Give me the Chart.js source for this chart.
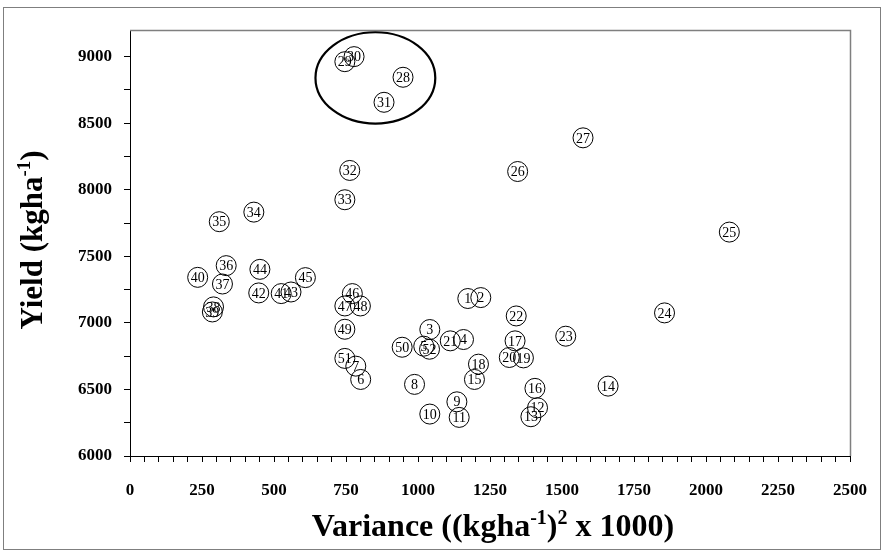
<!DOCTYPE html>
<html>
<head>
<meta charset="utf-8">
<script src="https://cdn.jsdelivr.net/npm/chart.js@4.4.1/dist/chart.umd.min.js"></script>
<style>
  html, body { margin: 0; padding: 0; background: #fff; }
  #wrap { width: 885px; height: 554px; position: relative; }
</style>
</head>
<body>
<div id="wrap"><canvas id="chart"></canvas></div>
<script>
// genotype numbers, variance (x1000) and mean yield
const pointIds = [1, 2, 3, 4, 5, 6, 7, 8, 9, 10, 11, 12, 13, 14, 15, 16, 17, 18, 19, 20,
  21, 22, 23, 24, 25, 26, 27, 28, 29, 30, 31, 32, 33, 34, 35, 36, 37, 38, 39, 40,
  41, 42, 43, 44, 45, 46, 47, 48, 49, 50, 51, 52];
const variance = [1173, 1218, 1041, 1158, 1020, 801, 784, 988, 1135, 1041,
  1143, 1415, 1392, 1660, 1196, 1406, 1337, 1210, 1366, 1317,
  1112, 1341, 1513, 1856, 2081, 1346, 1573, 948, 746, 778,
  882, 763, 746, 430, 310, 334, 321, 290, 286, 235,
  525, 447, 559, 451, 609, 772, 746, 800, 746, 945,
  746, 1040];
const yieldValues = [7183, 7190, 6950, 6875, 6825, 6575, 6675, 6538, 6407, 6315,
  6290, 6362, 6295, 6525, 6575, 6508, 6865, 6690, 6737, 6740,
  6865, 7052, 6900, 7075, 7682, 8137, 8390, 8845, 8962, 9000,
  8657, 8145, 7925, 7832, 7760, 7430, 7292, 7120, 7082, 7342,
  7220, 7225, 7232, 7402, 7340, 7220, 7127, 7127, 6952, 6817,
  6733, 6802];
const xTickLabels = [0, 250, 500, 750, 1000, 1250, 1500, 1750, 2000, 2250, 2500];
const yTickLabels = [6000, 6500, 7000, 7500, 8000, 8500, 9000];

const serif = '"Liberation Serif", "Times New Roman", serif';

// ellipse drawn round the high-yield group (28-31), in data units
const ring = { x: 852, y: 8840, rx: 208, ry: 343 };

function range(from, to, step) {
  const out = [];
  for (let v = from; v <= to; v += step) out.push({ value: v });
  return out;
}

function drawRich(ctx, parts, size) {
  // parts: [text, isSuperscript]
  let total = 0;
  parts.forEach(p => {
    ctx.font = 'bold ' + (p[1] ? Math.round(size * 0.62) : size) + 'px ' + serif;
    total += ctx.measureText(p[0]).width;
  });
  let x = -total / 2;
  parts.forEach(p => {
    ctx.font = 'bold ' + (p[1] ? Math.round(size * 0.62) : size) + 'px ' + serif;
    ctx.fillText(p[0], x, p[1] ? -size * 0.38 : 0);
    x += ctx.measureText(p[0]).width;
  });
}

const decorPlugin = {
  id: 'decor',
  beforeDraw(chart) {
    const ctx = chart.ctx;
    ctx.save();
    ctx.fillStyle = '#fff';
    ctx.fillRect(0, 0, chart.width, chart.height);
    ctx.strokeStyle = '#7f7f7f';
    ctx.lineWidth = 1;
    ctx.strokeRect(3.5, 7.5, 877, 542);
    ctx.restore();
  },
  afterDraw(chart) {
    const ctx = chart.ctx;
    const a = chart.chartArea;
    const xs = chart.scales.x, ys = chart.scales.y;
    ctx.save();
    // plot area frame top and right
    ctx.strokeStyle = '#7f7f7f';
    ctx.lineWidth = 1.5;
    ctx.beginPath();
    ctx.moveTo(a.left, a.top + 0.5);
    ctx.lineTo(a.right + 0.5, a.top + 0.5);
    ctx.lineTo(a.right + 0.5, a.bottom);
    ctx.stroke();

    // ellipse
    const cx = xs.getPixelForValue(ring.x), cy = ys.getPixelForValue(ring.y);
    const rx = Math.abs(xs.getPixelForValue(ring.x + ring.rx) - cx);
    const ry = Math.abs(ys.getPixelForValue(ring.y + ring.ry) - cy);
    ctx.strokeStyle = '#000';
    ctx.lineWidth = 2.2;
    ctx.beginPath();
    ctx.ellipse(cx, cy, rx, ry, 0, 0, Math.PI * 2);
    ctx.stroke();

    // point numbers
    const meta = chart.getDatasetMeta(0);
    ctx.fillStyle = '#000';
    ctx.font = '14px ' + serif;
    ctx.textAlign = 'center';
    ctx.textBaseline = 'middle';
    meta.data.forEach((pt, i) => {
      ctx.fillText(String(pointIds[i]), pt.x, pt.y + 1);
    });

    // axis titles
    ctx.textAlign = 'left';
    ctx.textBaseline = 'alphabetic';
    ctx.save();
    ctx.translate(42, 240);
    ctx.rotate(-Math.PI / 2);
    drawRich(ctx, [['Yield (kgha', false], ['-1', true], [')', false]], 31);
    ctx.restore();

    ctx.save();
    ctx.translate(493, 536);
    drawRich(ctx, [['Variance ((kgha', false], ['-1', true], [')', false], ['2', true], [' x 1000)', false]], 32);
    ctx.restore();
    ctx.restore();
  }
};

new Chart(document.getElementById('chart'), {
  type: 'scatter',
  data: {
    datasets: [{
      data: variance.map((v, i) => ({ x: v, y: yieldValues[i] })),
      pointRadius: 10,
      pointHoverRadius: 10,
      pointBackgroundColor: 'rgba(255,255,255,0)',
      pointBorderColor: '#000',
      pointBorderWidth: 1
    }]
  },
  options: {
    responsive: true,
    maintainAspectRatio: false,
    animation: false,
    layout: { padding: { left: 0, top: 30, right: 30, bottom: 0 } },
    plugins: {
      legend: { display: false },
      tooltip: { enabled: false }
    },
    scales: {
      x: {
        type: 'linear',
        min: 0,
        max: 2500,
        afterBuildTicks: scale => { scale.ticks = range(0, 2500, 50); },
        afterFit: scale => { scale.height = 98; },
        grid: { drawOnChartArea: false, drawTicks: true, tickLength: 6, color: '#000' },
        border: { display: true, color: '#000', width: 1 },
        ticks: {
          autoSkip: false,
          maxRotation: 0,
          padding: 18,
          color: '#000',
          font: { family: serif, size: 17, weight: 'bold' },
          callback: v => xTickLabels.includes(v) ? String(v) : ''
        }
      },
      y: {
        type: 'linear',
        min: 6000,
        max: 9200,
        afterBuildTicks: scale => { scale.ticks = range(6000, 9000, 250); },
        afterFit: scale => { scale.width = 130; },
        grid: { drawOnChartArea: false, drawTicks: true, tickLength: 6, color: '#000' },
        border: { display: true, color: '#000', width: 1 },
        ticks: {
          autoSkip: false,
          padding: 12,
          color: '#000',
          font: { family: serif, size: 17, weight: 'bold' },
          callback: v => yTickLabels.includes(v) ? String(v) : ''
        }
      }
    }
  },
  plugins: [decorPlugin]
});
</script>
</body>
</html>
